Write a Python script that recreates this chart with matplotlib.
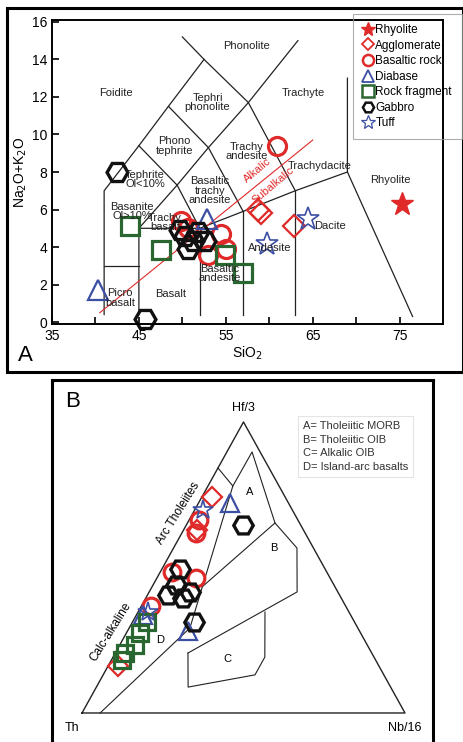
import matplotlib.pyplot as plt
from matplotlib.patches import Rectangle
from matplotlib.lines import Line2D

plt.rcParams['font.family'] = ['Liberation Sans', 'DejaVu Sans']

RED = '#e02a2a'
BLUE = '#3d4fa3'
GREEN = '#2a6630'
BLACK = '#111111'

# ---- panel A: TAS data (SiO2, Na2O+K2O) ----
rhyolite_si = [75.3]
rhyolite_alk = [6.3]
agglo_si = [58.7, 59.1, 62.9]
agglo_alk = [6.0, 5.8, 5.1]
basrock_si = [49.8, 50.6, 53.0, 54.4, 55.0, 60.9]
basrock_alk = [5.4, 5.0, 3.6, 4.7, 3.9, 9.4]
diabase_si = [40.3, 52.8]
diabase_alk = [1.7, 5.5]
rockfrag_si = [44.0, 47.6, 54.9, 57.0]
rockfrag_alk = [5.1, 3.85, 3.6, 2.6]
gabbro_si = [42.5, 45.7, 49.7, 50.3, 50.6, 51.2, 51.8, 52.6]
gabbro_alk = [8.0, 0.15, 4.9, 4.6, 3.9, 4.3, 4.8, 4.3]
tuff_si = [64.5, 59.8]
tuff_alk = [5.5, 4.15]

# TAS field boundaries (Le Bas et al. 1986)
tas_lines = [
    [(41, 0.4), (41, 7), (45, 9.4), (48.4, 11.5), (52.5, 14)],
    [(41, 3), (45, 3)],
    [(45, 0.4), (45, 5), (49.4, 7.3), (53, 9.3), (57.6, 11.7), (63.3, 15)],
    [(45, 5), (52, 5), (57, 5.9), (63, 7), (69, 8)],
    [(52, 0.4), (52, 5)],
    [(57, 0.4), (57, 5.9)],
    [(63, 0.4), (63, 7)],
    [(45, 9.4), (49.4, 7.3), (52, 5)],
    [(48.4, 11.5), (53, 9.3), (57, 5.9)],
    [(50, 15.2), (52.5, 14), (57.6, 11.7), (63, 7)],
    [(69, 13), (69, 8), (76.5, 0.3)],
]
alk_line = [(40.5, 0.5), (65, 9.7)]

# ---- panel B: Th - Hf/3 - Nb/16 data (percent) ----
b_agglo = [(22.7, 74.2, 3.1), (33.0, 63.0, 4.0), (80.7, 16.2, 3.1)]
b_basrock = [(30.6, 66.3, 3.1), (33.7, 61.9, 4.4), (47.9, 48.5, 3.6),
             (41.5, 46.4, 12.1), (60.2, 36.8, 3.0)]
b_diabase = [(18.1, 72.2, 9.7), (53.1, 28.2, 18.7), (64.3, 33.7, 2.0)]
b_rockfrag = [(64.2, 31.3, 4.5), (68.3, 27.5, 4.2), (71.9, 23.4, 4.7),
              (76.4, 20.6, 3.0), (78.5, 18.2, 3.3)]
b_gabbro = [(17.8, 64.6, 17.6), (44.9, 49.5, 5.6), (53.1, 40.5, 6.4),
            (49.0, 39.5, 11.5), (45.7, 41.6, 12.7), (48.9, 44.0, 7.1),
            (49.7, 31.3, 19.0)]
b_tuff = [(27.6, 69.8, 2.6), (62.2, 34.7, 3.1)]

# field boundaries of Wood (1980), (Th, Hf/3, Nb/16) percent
wood_lines = [
    [(94.4, 0, 5.6), (52.0, 29.2, 18.8), (14.3, 78.0, 7.7), (15.8, 84.2, 0.0)],
    [(14.3, 78.0, 7.7), (2.5, 89.7, 7.8), (7.6, 65.3, 27.1),
     (5.1, 56.7, 38.2), (12.6, 41.6, 45.8), (56.9, 20.6, 22.5)],
    [(7.6, 65.3, 27.1), (41.2, 43.3, 15.5)],
    [(56.9, 20.6, 22.5), (62.7, 8.9, 28.4), (39.9, 13.1, 47.0),
     (33.8, 19.2, 47.0), (26.0, 34.7, 39.3)],
]


def tern(points):
    xs, ys = [], []
    for th, hf, nb in points:
        s = th + hf + nb
        hf, nb = hf / s, nb / s
        xs.append(nb + hf / 2)
        ys.append(hf)
    return xs, ys


fig = plt.figure(figsize=(4.64, 7.42), dpi=100)

# outer frame of panel A
fig.patches.append(Rectangle((7 / 464, 1 - 372 / 742), 456 / 464, 364 / 742,
                             transform=fig.transFigure, fill=False,
                             lw=2.2, ec='black'))

ax = fig.add_axes([52 / 464, 1 - 324 / 742, 391 / 464, 304 / 742])
for line in tas_lines:
    xs = [p[0] for p in line]
    ys = [p[1] for p in line]
    ax.plot(xs, ys, color='#222222', lw=0.9)
ax.plot([p[0] for p in alk_line], [p[1] for p in alk_line], color=RED, lw=0.8)

ax.set_xlim(35, 80)
ax.set_ylim(-0.1, 16.1)
ax.set_xticks([35, 45, 55, 65, 75])
ax.set_xticks([40, 50, 60, 70], minor=True)
ax.set_yticks(range(0, 17, 2))
ax.tick_params(direction='in', length=5, width=1.2, labelsize=10)
ax.tick_params(which='minor', direction='in', length=5, width=1.2)
for s in ax.spines.values():
    s.set_linewidth(1.4)
ax.set_xlabel('SiO$_2$', fontsize=10, labelpad=1)
ax.set_ylabel('Na$_2$O+K$_2$O', fontsize=10, labelpad=2)

labels = [
    ('Foidite', 42.4, 12.2), ('Phonolite', 57.4, 14.7),
    ('Tephri\nphonolite', 52.9, 11.7), ('Trachyte', 63.9, 12.2),
    ('Phono\ntephrite', 49.1, 9.4), ('Trachy\nandesite', 57.4, 9.1),
    ('Trachydacite', 65.8, 8.3), ('Rhyolite', 73.9, 7.6),
    ('Tephrite\nOl<10%', 45.7, 7.6), ('Basanite\nOl>10%', 44.2, 5.9),
    ('Basaltic\ntrachy\nandesite', 53.2, 7.0), ('Trachy\nbasalt', 48.0, 5.3),
    ('Basaltic\nandesite', 54.3, 2.6), ('Andesite', 60.1, 3.95),
    ('Dacite', 67.0, 5.1), ('Picro\nbasalt', 42.8, 1.3), ('Basalt', 48.6, 1.5),
]
for txt, x, y in labels:
    ax.text(x, y, txt, ha='center', va='center', fontsize=8,
            linespacing=0.95, color='#222222')
ax.text(58.6, 8.1, 'Alkalic', color=RED, fontsize=8, rotation=40,
        ha='center', va='center')
ax.text(60.4, 7.3, 'Subalkalic', color=RED, fontsize=8, rotation=40,
        ha='center', va='center')

ax.plot(rhyolite_si, rhyolite_alk, ls='none', marker='*', ms=17, color=RED, clip_on=False)
ax.plot(agglo_si, agglo_alk, ls='none', marker='D', ms=11, mfc='none', mec=RED, mew=1.6, clip_on=False)
ax.plot(basrock_si, basrock_alk, ls='none', marker='o', ms=13, mfc='none', mec=RED, mew=2.3, clip_on=False)
ax.plot(diabase_si, diabase_alk, ls='none', marker='^', ms=14, mfc='none', mec=BLUE, mew=1.6, clip_on=False)
ax.plot(rockfrag_si, rockfrag_alk, ls='none', marker='s', ms=13, mfc='none', mec=GREEN, mew=2.3, clip_on=False)
ax.plot(gabbro_si, gabbro_alk, ls='none', marker='H', ms=15, mfc='none', mec=BLACK, mew=2.4, clip_on=False)
ax.plot(tuff_si, tuff_alk, ls='none', marker='*', ms=17, mfc='none', mec=BLUE, mew=1.2, clip_on=False)

fig.text(25 / 464, 1 - 355 / 742, 'A', fontsize=16, ha='center', va='center')

handles = [
    Line2D([], [], ls='none', marker='*', ms=10, color=RED),
    Line2D([], [], ls='none', marker='D', ms=6, mfc='none', mec=RED, mew=1.3),
    Line2D([], [], ls='none', marker='o', ms=8, mfc='none', mec=RED, mew=1.8),
    Line2D([], [], ls='none', marker='^', ms=8, mfc='none', mec=BLUE, mew=1.3),
    Line2D([], [], ls='none', marker='s', ms=8, mfc='none', mec=GREEN, mew=1.8),
    Line2D([], [], ls='none', marker='H', ms=8, mfc='none', mec=BLACK, mew=1.8),
    Line2D([], [], ls='none', marker='*', ms=10, mfc='none', mec=BLUE, mew=0.9),
]
names = ['Rhyolite', 'Agglomerate', 'Basaltic rock', 'Diabase',
         'Rock fragment', 'Gabbro', 'Tuff']
leg = fig.legend(handles, names, loc='upper left',
                 bbox_to_anchor=(353 / 464, 1 - 14 / 742), fontsize=8.5,
                 frameon=True, fancybox=False, handlelength=0.9,
                 handletextpad=0.15, labelspacing=0.3, borderpad=0.85,
                 borderaxespad=0)
leg.get_frame().set_edgecolor('#999999')
leg.get_frame().set_facecolor('none')
leg.get_frame().set_linewidth(0.8)

# ---- panel B ----
bx = fig.add_axes([52 / 464, 0, 381 / 464, 362 / 742])
bx.set_xlim(-0.0929, 1.0867)
bx.set_ylim(-0.0997, 1.1443)
bx.set_xticks([])
bx.set_yticks([])
for s in bx.spines.values():
    s.set_linewidth(2.2)
bx.spines['bottom'].set_visible(False)

tx, ty = tern([(100, 0, 0), (0, 0, 100), (0, 100, 0), (100, 0, 0)])
bx.plot(tx, ty, color='#222222', lw=1.0)
for line in wood_lines:
    lx, ly = tern(line)
    bx.plot(lx, ly, color='#222222', lw=0.8)

bx.text(0.5, 1.048, 'Hf/3', ha='center', va='center', fontsize=9)
bx.text(-0.03, -0.03, 'Th', ha='center', va='top', fontsize=9)
bx.text(1.0, -0.03, 'Nb/16', ha='center', va='top', fontsize=9)
bx.text(-0.053, 1.07, 'B', fontsize=16, ha='left', va='center')
bx.text(0.519, 0.76, 'A', fontsize=8, ha='center', va='center')
bx.text(0.595, 0.566, 'B', fontsize=8, ha='center', va='center')
bx.text(0.449, 0.186, 'C', fontsize=8, ha='center', va='center')
bx.text(0.241, 0.251, 'D', fontsize=8, ha='center', va='center')
bx.text(0.297, 0.686, 'Arc Tholeiites', fontsize=8.5, rotation=58,
        ha='center', va='center')
bx.text(0.09, 0.278, 'Calc-alkaline', fontsize=8.5, rotation=58,
        ha='center', va='center')

marks = [
    (b_agglo, dict(marker='D', ms=10, mfc='none', mec=RED, mew=1.6)),
    (b_basrock, dict(marker='o', ms=12, mfc='none', mec=RED, mew=2.3)),
    (b_diabase, dict(marker='^', ms=13, mfc='none', mec=BLUE, mew=1.6)),
    (b_rockfrag, dict(marker='s', ms=12, mfc='none', mec=GREEN, mew=2.3)),
    (b_gabbro, dict(marker='H', ms=14, mfc='none', mec=BLACK, mew=2.4)),
    (b_tuff, dict(marker='*', ms=15, mfc='none', mec=BLUE, mew=1.2)),
]
for pts, style in marks:
    mx, my = tern(pts)
    bx.plot(mx, my, ls='none', **style)

fig.text(303 / 464, 1 - 421 / 742,
         'A= Tholeiitic MORB\nB= Tholeiitic OIB\nC= Alkalic OIB\nD= Island-arc basalts',
         fontsize=8, va='top', ha='left', linespacing=1.45, color='#333333',
         bbox=dict(boxstyle='square,pad=0.45', fc='white', ec='#e4e4e4', lw=0.8))

fig.savefig('out.png', dpi=100)
